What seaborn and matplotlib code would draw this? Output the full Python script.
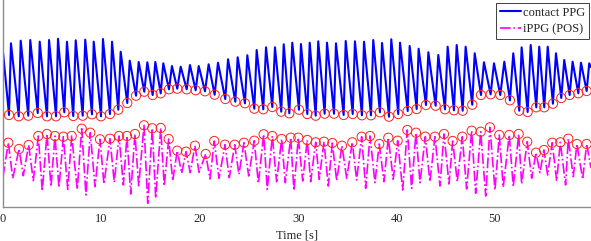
import numpy as np
import pandas as pd
import matplotlib
matplotlib.use("Agg")
import matplotlib.pyplot as plt
from matplotlib.lines import Line2D
import seaborn as sns

# ---------------- data ----------------
# contact PPG: trough times / values (marked with red circles)
ppg_trough_t = [0.61, 1.60, 2.57, 3.53, 4.47, 5.39, 6.23, 7.14, 8.10, 9.04, 9.96, 10.87, 11.72,
                12.63, 13.52, 14.36, 15.21, 16.03, 16.87, 17.71, 18.67, 19.58, 20.53, 21.51,
                22.59, 23.61, 24.59, 25.54, 26.45, 27.37, 28.28, 29.10, 30.08, 30.93, 31.78,
                32.69, 33.64, 34.62, 35.54, 36.48, 37.40, 38.31, 39.23, 40.17, 41.13, 42.04,
                42.99, 43.97, 44.92, 45.83, 46.72, 47.69, 48.58, 49.56, 50.54, 51.52, 52.47,
                53.32, 54.20, 55.01, 55.89, 56.74, 57.59, 58.47, 59.32]
ppg_trough_v = [9.20, 9.07, 9.13, 9.40, 9.07, 9.07, 9.47, 9.10, 9.13, 9.27, 9.07, 9.30, 9.73,
                10.40, 11.13, 11.53, 11.20, 11.37, 11.77, 11.83, 11.77, 11.67, 11.57, 11.23,
                10.80, 10.53, 10.37, 9.83, 9.77, 10.00, 9.53, 9.37, 9.73, 9.30, 9.13,
                9.33, 9.33, 9.20, 9.30, 9.17, 9.17, 9.47, 9.03, 9.30, 9.60, 9.80,
                10.20, 10.13, 9.77, 9.67, 9.63, 10.23, 11.20, 11.27, 11.20, 10.67, 9.63,
                9.50, 9.97, 9.97, 10.33, 10.90, 11.20, 11.37, 11.60]
# contact PPG: systolic peak times / values
ppg_peak_t = [0.81, 1.80, 2.77, 3.73, 4.68, 5.59, 6.50, 7.39, 8.36, 9.22, 10.16, 11.08, 11.96,
              12.88, 13.79, 14.67, 15.48, 16.29, 17.17, 18.06, 19.00, 19.89, 20.90, 21.85,
              22.87, 23.85, 24.83, 25.78, 26.73, 27.64, 28.53, 29.40, 30.28, 31.17, 32.04,
              32.93, 33.84, 34.83, 35.77, 36.69, 37.63, 38.52, 39.46, 40.35, 41.33, 42.24,
              43.23, 44.24, 45.19, 46.11, 47.02, 47.94, 48.88, 49.90, 50.95, 51.86, 52.71,
              53.63, 54.50, 55.36, 56.20, 57.04, 57.89, 58.74, 59.58]
ppg_peak_v = [16.37, 16.63, 16.70, 16.53, 16.70, 16.83, 16.53, 16.67, 16.73, 16.53, 16.80, 16.53, 15.53,
              14.63, 14.50, 14.47, 14.50, 14.37, 14.10, 14.03, 14.20, 14.10, 14.27, 14.43,
              14.77, 14.97, 15.17, 15.70, 15.97, 15.97, 16.27, 16.43, 16.30, 16.43, 16.57,
              16.43, 16.37, 16.60, 16.57, 16.53, 16.70, 16.40, 16.77, 16.43, 16.10, 15.83,
              15.47, 15.20, 16.03, 16.20, 16.03, 15.37, 14.47, 14.37, 14.53, 15.37, 15.97,
              16.20, 16.03, 16.03, 15.37, 14.70, 14.53, 14.43, 14.37]
ppg_edge_t = [0.0, 59.76]
ppg_edge_v = [15.5, 14.0]

# iPPG (POS): peak times / values (marked with red circles)
ippg_peak_t = [0.54, 1.63, 2.61, 3.59, 4.47, 5.28, 6.13, 6.98, 8.00, 8.87, 9.86, 10.87, 11.79,
               12.60, 13.41, 14.33, 15.17, 16.03, 16.84, 17.71, 18.60, 19.51, 20.60, 21.47,
               22.56, 23.55, 24.49, 25.54, 26.49, 27.37, 28.32, 29.24, 30.01, 30.92, 31.78,
               32.62, 33.47, 34.45, 35.50, 36.45, 37.30, 38.24, 39.16, 40.11, 41.09, 41.97,
               42.92, 43.90, 44.82, 45.70, 46.68, 47.63, 48.55, 49.49, 50.44, 51.45, 52.41,
               53.28, 54.17, 54.98, 55.82, 56.64, 57.45, 58.33, 59.32]
ippg_peak_v = [6.43, 5.80, 6.20, 7.10, 7.30, 7.10, 7.03, 7.10, 7.83, 7.43, 6.77, 6.83, 7.10,
               7.10, 7.30, 8.17, 7.87, 7.90, 6.80, 5.63, 5.53, 6.13, 5.30, 6.60,
               6.23, 6.23, 6.43, 6.63, 7.27, 7.10, 6.80, 6.93, 6.93, 6.70, 6.47,
               6.53, 6.40, 6.13, 6.47, 7.03, 7.10, 6.30, 6.93, 6.63, 7.70, 7.43,
               7.03, 7.03, 7.30, 6.60, 7.03, 7.63, 7.53, 7.97, 7.20, 7.20, 7.30,
               6.53, 5.43, 5.70, 6.43, 6.47, 6.83, 6.30, 6.30]
# iPPG (POS): trough times / values
ippg_trough_t = [0.99, 2.06, 3.08, 3.99, 4.88, 5.69, 6.58, 7.55, 8.43, 9.35, 10.26, 11.31, 12.23,
                 12.98, 13.79, 14.71, 15.52, 16.39, 17.25, 18.16, 19.03, 19.92, 21.04, 21.95,
                 23.00, 23.98, 24.97, 25.95, 26.86, 27.81, 28.69, 29.57, 30.46, 31.27, 32.14,
                 33.06, 33.91, 34.93, 35.94, 36.86, 37.80, 38.72, 39.66, 40.62, 41.53, 42.38,
                 43.39, 44.41, 45.33, 46.17, 47.12, 48.04, 49.06, 50.00, 50.84, 51.86, 52.71,
                 53.73, 54.57, 55.35, 56.27, 57.18, 57.96, 58.91]
ippg_trough_v = [2.87, 3.13, 2.63, 1.60, 2.03, 1.97, 1.77, 1.77, 1.20, 2.03, 2.30, 2.47, 2.20,
                 1.30, 2.13, 0.37, 0.87, 2.10, 2.63, 3.37, 3.43, 3.47, 2.80, 2.87,
                 2.93, 3.27, 3.10, 2.37, 1.77, 2.53, 2.43, 1.63, 2.60, 2.53, 2.77,
                 2.10, 2.63, 2.87, 2.70, 1.87, 2.43, 2.53, 2.77, 1.70, 1.87, 2.43,
                 2.53, 2.10, 2.30, 2.53, 1.80, 1.37, 1.10, 1.70, 1.97, 2.03, 2.30,
                 2.87, 3.43, 3.20, 2.60, 2.20, 3.03, 2.77]
ippg_edge_t = [0.0, 59.76]
ippg_edge_v = [3.0, 3.9]

legend_labels = ["contact PPG", "iPPG (POS)"]
x_ticks = [0, 10, 20, 30, 40, 50]
x_label = "Time [s]"

# ---------------- tables ----------------
ppg = pd.DataFrame({"t": ppg_edge_t + ppg_trough_t + ppg_peak_t,
                    "v": ppg_edge_v + ppg_trough_v + ppg_peak_v}).sort_values("t")
ippg = pd.DataFrame({"t": ippg_edge_t + ippg_peak_t + ippg_trough_t,
                     "v": ippg_edge_v + ippg_peak_v + ippg_trough_v}).sort_values("t")
ppg_marks = pd.DataFrame({"t": ppg_trough_t, "v": ppg_trough_v})
ippg_marks = pd.DataFrame({"t": ippg_peak_t, "v": ippg_peak_v})

# ---------------- figure ----------------
sns.set_style("white")
plt.rcParams["font.family"] = ["Liberation Serif", "DejaVu Serif"]

W, H = 591, 241
fig = plt.figure(figsize=(W / 100, H / 100), dpi=100)
ax = fig.add_axes([3 / W, 34 / H, 1 - 3 / W, 207 / H])

sns.lineplot(data=ppg, x="t", y="v", ax=ax, color="#0000ff", lw=1.5,
             estimator=None, sort=False, zorder=2)
sns.lineplot(data=ippg, x="t", y="v", ax=ax, color="#ff00ff", lw=1.2,
             estimator=None, sort=False, linestyle="-.", zorder=2)
ax.scatter(ppg_marks["t"], ppg_marks["v"], s=44, marker="o", facecolors="none",
           edgecolors="#ff2020", linewidths=0.7, zorder=3)
ax.scatter(ippg_marks["t"], ippg_marks["v"], s=44, marker="o", facecolors="none",
           edgecolors="#ff2020", linewidths=0.7, zorder=3)

ax.set_xlim(0, 59.76)
ax.set_ylim(0, 20.7)
ax.set_xticks(x_ticks)
ax.set_xticklabels([str(v) for v in x_ticks])
ax.set_yticks([])
ax.set_xlabel(x_label, fontsize=9, labelpad=3.5)
ax.set_ylabel("")
ax.tick_params(axis="x", direction="in", length=4, width=0.8, color="#808080",
               labelsize=9, pad=4, labelcolor="#262626")
ax.xaxis.label.set_color("#262626")
for s in ["top", "right"]:
    ax.spines[s].set_visible(False)
for s in ["left", "bottom"]:
    ax.spines[s].set_color("#8c8c8c")
    ax.spines[s].set_linewidth(1.0)

handles = [Line2D([], [], color="#0000ff", lw=1.5),
           Line2D([], [], color="#ff00ff", lw=1.2, linestyle="-.")]
leg = ax.legend(handles, legend_labels, loc="upper right",
                bbox_to_anchor=(589 / W, 1 - 3 / H), bbox_transform=fig.transFigure,
                fontsize=9, frameon=True, fancybox=False, framealpha=1,
                edgecolor="#404040", borderpad=0.3, labelspacing=0.35,
                handlelength=1.7, handletextpad=0.15, borderaxespad=0)
leg.get_frame().set_linewidth(0.7)

fig.savefig("out.png", dpi=100)
